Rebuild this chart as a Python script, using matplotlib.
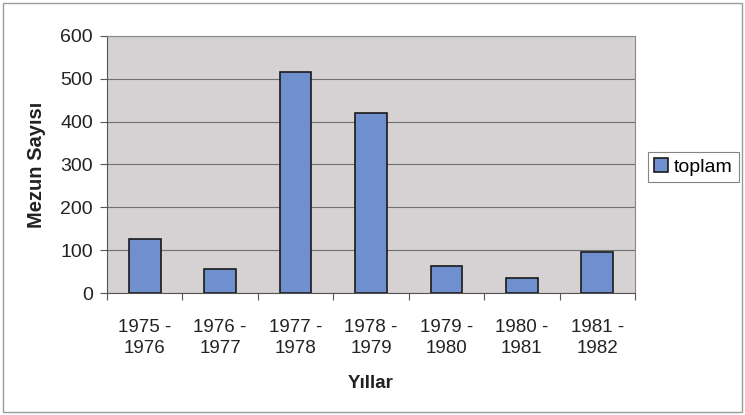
import matplotlib
matplotlib.use("Agg")
import matplotlib.pyplot as plt
from matplotlib.patches import Rectangle

categories = ["1975 -\n1976", "1976 -\n1977", "1977 -\n1978", "1978 -\n1979",
              "1979 -\n1980", "1980 -\n1981", "1981 -\n1982"]
toplam = [125, 55, 515, 420, 62, 35, 95]
yticks = [0, 100, 200, 300, 400, 500, 600]

plt.rcParams['font.family'] = ['Liberation Sans', 'DejaVu Sans']

fig = plt.figure(figsize=(7.45, 4.15), dpi=100)
fig.patch.set_facecolor('white')
ax = fig.add_axes([107/745, 1-293/415, (635-107)/745, (293-36)/415])
ax.set_facecolor('#d6d2d4')

x = list(range(len(categories)))
ax.bar(x, toplam, width=0.42, color='#6f8fcf', edgecolor='#1a1a1a', linewidth=1.2,
       label='toplam', zorder=3)
ax.set_xlim(-0.5, len(categories) - 0.5)
ax.set_ylim(0, 600)
ax.set_yticks(yticks)
ax.set_yticklabels([str(v) for v in yticks], fontsize=14, color='#222222')
ax.yaxis.grid(True, color='#707070', linewidth=0.8, zorder=0)
ax.set_xticks([i - 0.5 for i in range(len(categories) + 1)], minor=False)
ax.set_xticklabels([])
ax.set_xticks(x, minor=True)
ax.set_xticklabels(categories, minor=True, fontsize=13.5, color='#222222',
                   linespacing=1.3)
ax.tick_params(axis='x', which='minor', length=0, pad=19)
ax.tick_params(axis='x', which='major', length=5, direction='out', color='#555555')
ax.tick_params(axis='y', length=5, direction='out', color='#555555', pad=5)
for s in ['top', 'right']:
    ax.spines[s].set_color('#888888')
for s in ['left', 'bottom']:
    ax.spines[s].set_color('#555555')

ax.set_ylabel('Mezun Sayısı', fontsize=14.5, fontweight='bold', labelpad=10, color='#222222')
ax.set_xlabel('Yıllar', fontsize=13.5, fontweight='bold', labelpad=13, color='#222222')

leg = ax.legend(loc='center left', bbox_to_anchor=(1.006, 0.49), fontsize=14,
                frameon=True, fancybox=False, edgecolor='#666666',
                handlelength=0.75, handleheight=0.75, handletextpad=0.3,
                borderpad=0.3)
leg.get_frame().set_linewidth(0.8)

fig.patches.append(Rectangle((3/745, 3/415), 739/745, 409/415, transform=fig.transFigure,
                             fill=False, edgecolor='#999999', linewidth=1.0))

fig.savefig('out.png', dpi=100, facecolor='white')
